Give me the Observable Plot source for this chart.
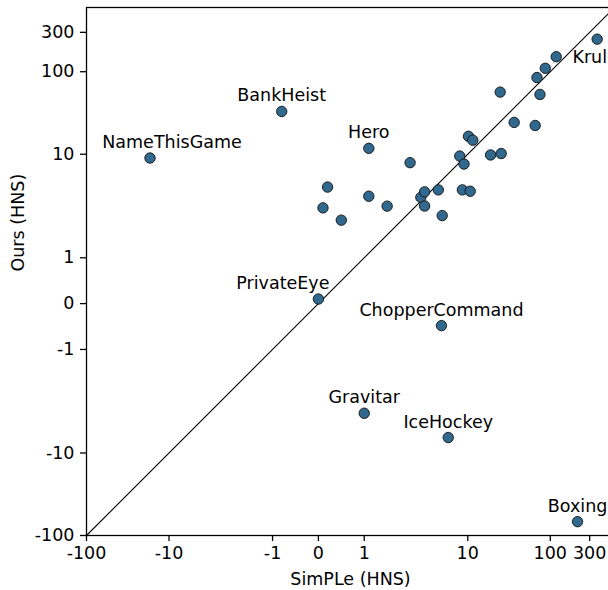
<!DOCTYPE html>
<html><head><meta charset="utf-8">
<script src="https://cdn.jsdelivr.net/npm/d3@7"></script>
<script src="https://cdn.jsdelivr.net/npm/@observablehq/plot@0.6"></script>
<style>
html,body{margin:0;padding:0;overflow:hidden;background:#fff;width:608px;height:590px;}
#chart svg{display:block;max-width:none !important;width:614px !important;height:590px !important;}
</style></head><body><div id="chart"></div>
<script>
// ---- data (HNS = human normalized score) ----
const games = ["NameThisGame","BankHeist","Hero","PrivateEye","ChopperCommand","Gravitar","IceHockey","Boxing","Krull",
  "","","","","","","","","","","","","","","","","","","","","","","","","",""];
const simpleHNS = [-17, -0.8, 1.1, 0, 4.8, 1.0, 5.8, 214, 370,
  118, 87, 69, 24.7, 75, 36.5, 65.6, 10.2, 11.5, 8.0, 18.9, 25.4, 2.0, 9.0, 0.2, 1.1, 1.5, 0.1, 0.5, 2.7, 3.0, 4.4, 8.6, 10.7, 3.0, 4.9];
const oursHNS = [9.0, 33, 11.8, 0.1, -0.48, -3.3, -6.5, -68, 248,
  152, 110, 85, 56.6, 53, 24.3, 22.3, 16.5, 14.8, 9.5, 9.8, 10.2, 7.9, 7.6, 4.0, 3.1, 2.35, 2.24, 1.82, 3.0, 3.5, 3.7, 3.7, 3.56, 2.36, 1.92];
const tickValues = [-100, -10, -1, 0, 1, 10, 100, 300];
const tickLabels = ["-100", "-10", "-1", "0", "1", "10", "100", "300"];
const axisLimits = [-100, 600];
const xTitle = "SimPLe (HNS)";
const yTitle = "Ours (HNS)";

// matplotlib-style symmetric log (linthresh = 2, linscale = 1, base 10)
const LT = 2, LS = 1 / (1 - 1 / 10);
const symlog = v => {
  const a = Math.abs(v);
  return a <= LT ? v * LS : Math.sign(v) * LT * (LS + Math.log10(a / LT));
};

const data = simpleHNS.map((s, i) => ({name: games[i], simple: s, ours: oursHNS[i]}));
const labelOffset = {NameThisGame: [22, -15.6], PrivateEye: [-35.5, -15.6], Krull: [-5, 17.8]};
const font = "DejaVu Sans, sans-serif";
const fs = 17.5;
const fmt = d => tickLabels[tickValues.indexOf(d)];

const labelMarks = data.filter(d => d.name).map(d => {
  const [dx, dy] = labelOffset[d.name] || [0, -15.6];
  return Plot.text([d], {x: "simple", y: "ours", text: "name", dx, dy, fontSize: fs, fill: "black", lineAnchor: "middle"});
});

const chart = Plot.plot({
  width: 614, height: 590,
  marginLeft: 86, marginRight: 0, marginTop: 7, marginBottom: 55,
  style: {fontFamily: font, fontSize: fs + "px", color: "black", background: "white", overflow: "visible", maxWidth: "none"},
  x: {type: "linear", transform: symlog, domain: axisLimits.map(symlog), label: null},
  y: {type: "linear", transform: symlog, domain: axisLimits.map(symlog), label: null},
  marks: [
    Plot.line(axisLimits.map(v => ({a: v})), {x: "a", y: "a", stroke: "black", strokeWidth: 1.1}),
    Plot.dot(data, {x: "simple", y: "ours", r: 5.2, fill: "#31688e", stroke: "#111", strokeWidth: 0.9}),
    ...labelMarks,
    Plot.axisX(tickValues, {anchor: "bottom", tickSize: 6, tickPadding: 5, tickFormat: fmt, fontSize: fs, strokeWidth: 1.3, label: null}),
    Plot.axisY(tickValues, {anchor: "left", tickSize: 6, tickPadding: 6, tickFormat: fmt, fontSize: fs, strokeWidth: 1.3, label: null}),
    Plot.frame({stroke: "black", strokeWidth: 1.3}),
    Plot.text([xTitle], {frameAnchor: "bottom", text: d => d, dy: 43.5, lineAnchor: "middle", fontSize: fs}),
    Plot.text([yTitle], {frameAnchor: "left", text: d => d, dx: -68.2, rotate: -90, lineAnchor: "middle", fontSize: fs})
  ]
});
document.getElementById("chart").appendChild(chart);
</script>
</body></html>
